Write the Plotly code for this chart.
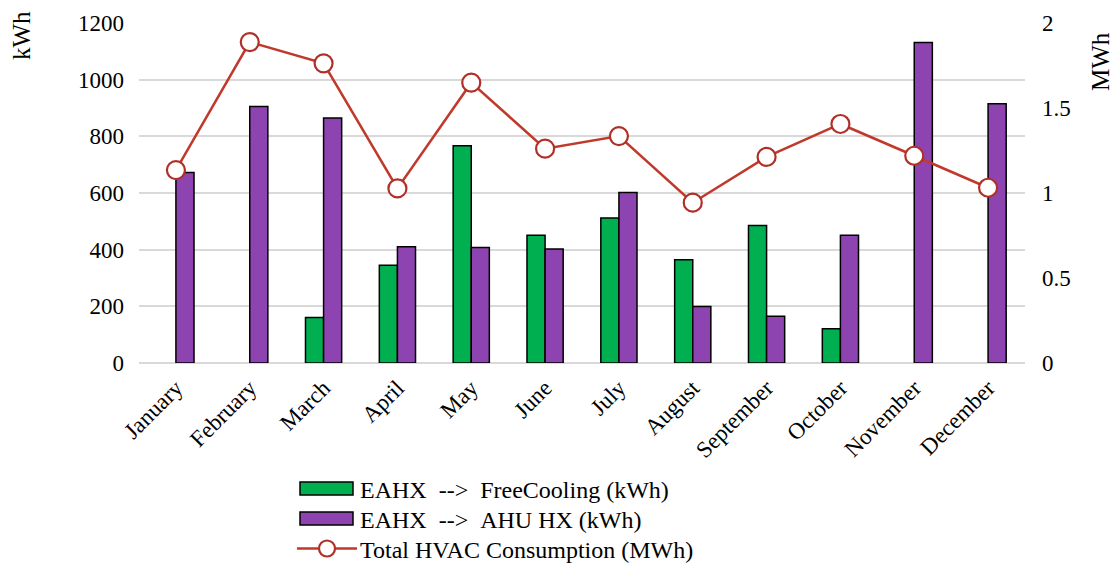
import plotly.graph_objects as go

months = ["January", "February", "March", "April", "May", "June", "July",
          "August", "September", "October", "November", "December"]
free_cooling_kwh = [None, None, 161, 345, 767, 451, 512, 364, 485, 121, None, None]
ahu_hx_kwh = [672, 905, 865, 410, 408, 402, 602, 199, 165, 451, 1131, 915]
hvac_total_mwh = [1.135, 1.888, 1.763, 1.027, 1.649, 1.261, 1.335, 0.943, 1.212, 1.406, 1.219, 1.031]

legend_labels = ["EAHX  -->  FreeCooling (kWh)",
                 "EAHX  -->  AHU HX (kWh)",
                 "Total HVAC Consumption (MWh)"]

FONT = "Liberation Serif, Times New Roman, serif"
GREEN = "#00B050"
PURPLE = "#8E44B0"
RED = "#C0392B"
MARKER_EDGE = "#B03028"

W, H = 1115, 566
ML, MR, MT, MB = 139, 90, 23, 203
PW, PH = W - ML - MR, H - MT - MB


def px(x):
    """Pixel column -> paper x."""
    return (x - ML) / PW


def py(y):
    """Pixel row -> paper y."""
    return (H - MB - y) / PH


fig = go.Figure()
fig.add_trace(go.Bar(
    x=months, y=free_cooling_kwh, name=legend_labels[0],
    marker=dict(color=GREEN, line=dict(color="black", width=1.5)),
))
fig.add_trace(go.Bar(
    x=months, y=ahu_hx_kwh, name=legend_labels[1],
    marker=dict(color=PURPLE, line=dict(color="black", width=1.5)),
))
fig.add_trace(go.Scatter(
    x=months, y=hvac_total_mwh, name=legend_labels[2],
    yaxis="y2", mode="lines+markers",
    line=dict(color=RED, width=2.5),
    marker=dict(symbol="circle", size=18, color="white",
                line=dict(color=MARKER_EDGE, width=2.2)),
))

# Legend drawn by hand: wide swatches and tight rows below the plot
NB = "\u00a0"
row_y = [488.5, 518.5, 548.5]
sw_x0, sw_x1, text_x = 300, 353, 358
shapes = []
annotations = []
for i, (label, color) in enumerate(zip(legend_labels[:2], [GREEN, PURPLE])):
    shapes.append(dict(
        type="rect", xref="paper", yref="paper",
        x0=px(sw_x0), x1=px(sw_x1), y0=py(row_y[i] + 6.5), y1=py(row_y[i] - 6.5),
        fillcolor=color, line=dict(color="black", width=1.5), layer="above",
    ))
shapes.append(dict(
    type="line", xref="paper", yref="paper",
    x0=px(297), x1=px(357), y0=py(row_y[2]), y1=py(row_y[2]),
    line=dict(color=RED, width=2.5), layer="above",
))
shapes.append(dict(
    type="circle", xref="paper", yref="paper",
    xsizemode="pixel", ysizemode="pixel",
    xanchor=px(327), yanchor=py(row_y[2]),
    x0=-8, x1=8, y0=-8, y1=8,
    fillcolor="white", line=dict(color=MARKER_EDGE, width=2.2), layer="above",
))
for i, label in enumerate(legend_labels):
    annotations.append(dict(
        text=label.replace(" ", NB), xref="paper", yref="paper",
        x=px(text_x), y=py(row_y[i] + 1), xanchor="left", yanchor="middle",
        showarrow=False, font=dict(family=FONT, size=24, color="black"),
    ))

annotations += [
    dict(text="kWh", xref="paper", yref="paper", x=px(22), y=py(36),
         textangle=-90, showarrow=False, font=dict(family=FONT, size=25),
         xanchor="center", yanchor="middle"),
    dict(text="MWh", xref="paper", yref="paper", x=px(1100), y=py(62),
         textangle=-90, showarrow=False, font=dict(family=FONT, size=25),
         xanchor="center", yanchor="middle"),
]

fig.update_layout(
    width=W, height=H,
    margin=dict(l=ML, r=MR, t=MT, b=MB, autoexpand=False),
    paper_bgcolor="white", plot_bgcolor="white",
    font=dict(family=FONT, size=22, color="black"),
    barmode="group", bargap=0.51, bargroupgap=0,
    showlegend=False,
    xaxis=dict(
        range=[-0.5, 11.5], tickangle=-45, tickfont=dict(size=23),
        showgrid=False, showline=False, zeroline=False, automargin=False,
        ticklabelstandoff=6,
    ),
    yaxis=dict(
        range=[0, 1200], dtick=200, showgrid=True, gridcolor="#D9D9D9",
        gridwidth=1.5, zeroline=True, zerolinecolor="#D9D9D9", zerolinewidth=1.5,
        showline=False, tickfont=dict(size=23), ticklabelstandoff=14,
        automargin=False,
    ),
    yaxis2=dict(
        range=[0, 2], dtick=0.5, overlaying="y", side="right", showgrid=False,
        zeroline=False, showline=False, tickfont=dict(size=23),
        ticklabelstandoff=16, automargin=False,
    ),
    shapes=shapes,
    annotations=annotations,
)

fig.write_html("out.html")
